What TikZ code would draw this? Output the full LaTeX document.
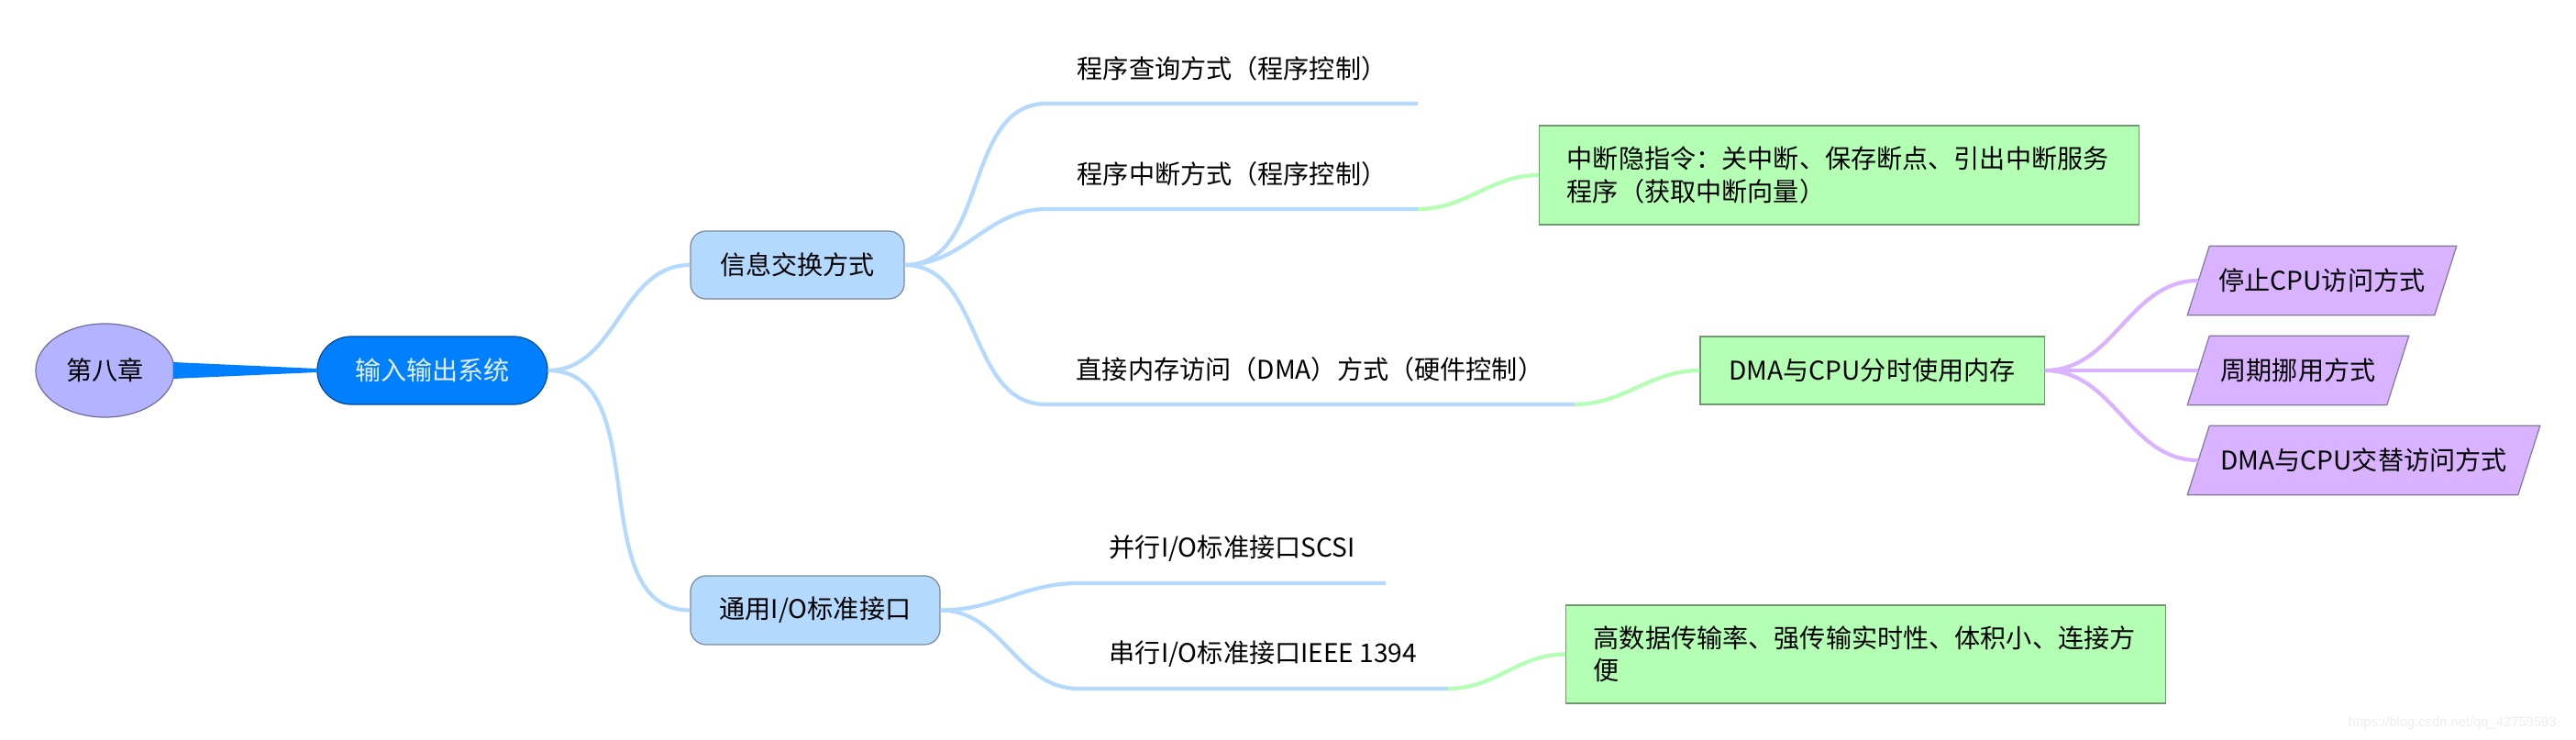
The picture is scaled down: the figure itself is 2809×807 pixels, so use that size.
\documentclass[tikz,border=0pt]{standalone}
\usepackage{fontspec}
\usepackage{tikz}
\usetikzlibrary{shapes.geometric, positioning, backgrounds}
\setmainfont{Noto Sans CJK SC}
\newfontfamily\markfont{Liberation Sans}
\definecolor{chapviolet}{HTML}{B3B3FF}
\definecolor{chapvioletside}{HTML}{6F6F99}
\definecolor{rootblue}{HTML}{0080FF}
\definecolor{rootblueside}{HTML}{00499A}
\definecolor{roottext}{HTML}{E6EEF5}
\definecolor{topicblue}{HTML}{B3D9FF}
\definecolor{topicblueside}{HTML}{7D8A99}
\definecolor{notegreen}{HTML}{B3FFB3}
\definecolor{notegreenside}{HTML}{6F996F}
\definecolor{modeviolet}{HTML}{D9B3FF}
\definecolor{modevioletside}{HTML}{85799A}
\tikzset{
  chapnode/.style={ellipse, fill=chapviolet, draw=chapvioletside, line width=0.35pt,
    minimum width=1.51cm, minimum height=1.02cm, inner sep=0pt},
  rootnode/.style={rectangle, rounded corners=0.37cm, fill=rootblue, draw=rootblueside,
    line width=0.35pt, text=roottext, minimum width=2.51cm, minimum height=0.74cm, inner sep=0pt},
  topicnode/.style={rectangle, rounded corners=0.17cm, fill=topicblue, draw=topicblueside,
    line width=0.35pt, minimum height=0.74cm, inner sep=0pt},
  leafnode/.style={anchor=south west, inner xsep=0.33cm, inner ysep=0pt, minimum height=0.74cm},
  notenode/.style={rectangle, fill=notegreen, draw=notegreenside, line width=0.35pt,
    inner xsep=0.3cm, inner ysep=0pt, align=left, text width=5.93cm},
  modenode/.style={rectangle, minimum height=0.74cm, inner sep=0pt},
  modeback/.style={fill=modeviolet, draw=modevioletside, line width=0.35pt},
  blueline/.style={topicblue, line width=1.2pt},
  greenline/.style={notegreen, line width=1.2pt},
  violetline/.style={modeviolet, line width=1.2pt},
}

\begin{document}
\begin{tikzpicture}[x=0.01cm, y=-0.01cm, font=\fontsize{8pt}{10pt}\selectfont]
    \useasboundingbox (0,0) rectangle (2809,807);

    % Chapter and central topic
    \node[chapnode] (chap) at (114.5,404) {第八章};
    \node[rootnode] (root) at (471.5,404) {输入输出系统};
    \fill[rootblue] ([xshift=-0.02cm,yshift=0.09cm]chap.east) -- ([yshift=0.02cm]root.west)
      -- ([yshift=-0.02cm]root.west) -- ([xshift=-0.02cm,yshift=-0.09cm]chap.east) -- cycle;

    % Main topics
    \node[topicnode, minimum width=2.33cm] (info) at (869.5,289) {信息交换方式};
    \node[topicnode, minimum width=2.72cm, minimum height=0.75cm] (general) at (889,665.5) {通用I/O标准接口};
    \foreach \topic in {info,general} {
      \draw[blueline] (root.east) to[out=0,in=180] (\topic.west);
    }

    % Exchange modes
    \node[leafnode] (poll) at (1141,113) {程序查询方式（程序控制）};
    \node[leafnode] (intr) at (1141,228) {程序中断方式（程序控制）};
    \node[leafnode] (dmaway) at (1140,441) {直接内存访问（DMA）方式（硬件控制）};
    \foreach \leaf in {poll,intr,dmaway} {
      \draw[blueline] (info.east) to[out=0,in=180] (\leaf.south west) -- (\leaf.south east);
    }

    \node[notenode, minimum height=1.08cm] (intnote) at (2005.5,191)
      {中断隐指令：关中断、保存断点、引出中断服务\\程序（获取中断向量）};
    \draw[greenline] (intr.south east) to[out=0,in=180] (intnote.west);

    \node[rectangle, fill=notegreen, draw=notegreenside, line width=0.35pt, inner sep=0pt,
      minimum width=3.75cm, minimum height=0.74cm] (dmashare) at (2041.5,404) {DMA与CPU分时使用内存};
    \draw[greenline] (dmaway.south east) to[out=0,in=180] (dmashare.west);

    % DMA transfer modes (slanted boxes)
    \node[modenode, minimum width=2.68cm] (stopcpu) at (2532,306) {停止CPU访问方式};
    \node[modenode, minimum width=2.16cm] (cyclesteal) at (2506,404) {周期挪用方式};
    \node[modenode, minimum width=3.59cm] (alternate) at (2577.5,502) {DMA与CPU交替访问方式};
    \begin{scope}[on background layer]
      \foreach \mode in {stopcpu,cyclesteal,alternate} {
        \draw[modeback] ([xshift=0.12cm]\mode.north west) -- ([xshift=0.12cm]\mode.north east)
          -- ([xshift=-0.12cm]\mode.south east) -- ([xshift=-0.12cm]\mode.south west) -- cycle;
      }
    \end{scope}
    \foreach \mode in {stopcpu,cyclesteal,alternate} {
      \draw[violetline] (dmashare.east) to[out=0,in=180] (\mode.west);
    }

    % Standard interfaces
    \node[leafnode] (parallel) at (1176,636) {并行I/O标准接口SCSI};
    \node[leafnode] (serial) at (1176,751) {串行I/O标准接口IEEE 1394};
    \foreach \leaf in {parallel,serial} {
      \draw[blueline] (general.east) to[out=0,in=180] (\leaf.south west) -- (\leaf.south east);
    }

    \node[notenode, minimum height=1.07cm] (ionote) at (2034.5,713.5)
      {高数据传输率、强传输实时性、体积小、连接方\\便};
    \draw[greenline] (serial.south east) to[out=0,in=180] (ionote.west);

    \node[anchor=east, text=black!7, font=\markfont\fontsize{4.2pt}{5pt}\selectfont] (mark) at (2800,789)
      {https://blog.csdn.net/qq\_42759593};
\end{tikzpicture}
\end{document}
